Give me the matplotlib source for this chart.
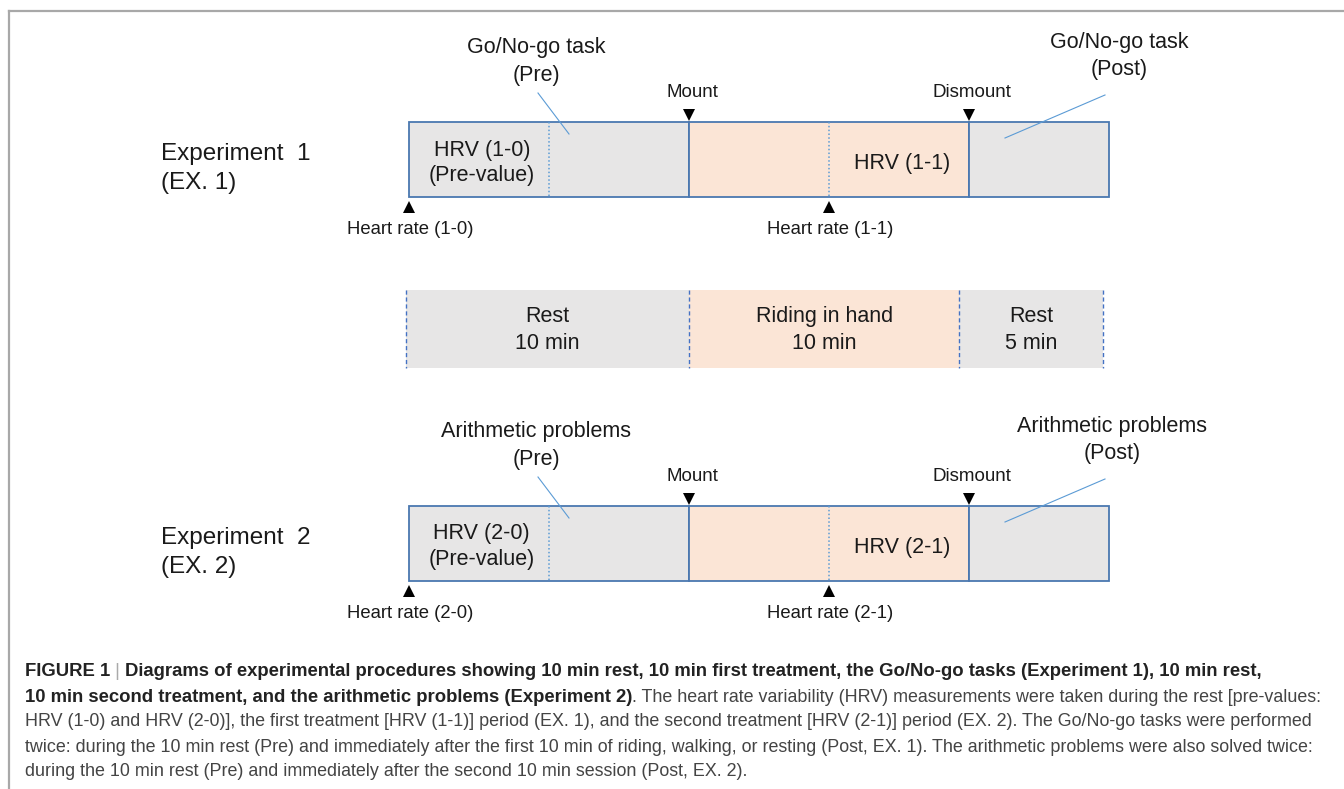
import matplotlib.pyplot as plt
from matplotlib.patches import Rectangle

plt.rcParams['font.family'] = ['Liberation Sans', 'DejaVu Sans']

# ---- data: timeline of each experiment (minutes) ----
seg_start = [0, 10, 20]
seg_end = [10, 20, 25]
seg_kind = ['rest', 'ride', 'rest']
hrv_split = [5, 15]            # dotted lines inside the bar
hr_times = [0, 15]             # heart rate markers
mount_t, dismount_t = 10, 20

exp_names = ['Experiment  1', 'Experiment  2']
exp_short = ['(EX. 1)', '(EX. 2)']
task_names = ['Go/No-go task', 'Arithmetic problems']
hrv_pre = ['HRV (1-0)', 'HRV (2-0)']
hrv_ride = ['HRV (1-1)', 'HRV (2-1)']
hr_labels = [['Heart rate (1-0)', 'Heart rate (1-1)'],
             ['Heart rate (2-0)', 'Heart rate (2-1)']]

# middle band: phases
band_edges = [-0.1, 10, 19.65, 24.8]
band_names = ['Rest', 'Riding in hand', 'Rest']
band_durations = ['10 min', '10 min', '5 min']

caption_bold_1 = ('Diagrams of experimental procedures showing 10 min rest, 10 min first '
                  'treatment, the Go/No-go tasks (Experiment 1), 10 min rest,')
caption_bold_2 = '10 min second treatment, and the arithmetic problems (Experiment 2)'
caption_rest_2 = ('. The heart rate variability (HRV) measurements were taken during the '
                  'rest [pre-values:')
caption_lines = [
    'HRV (1-0) and HRV (2-0)], the first treatment [HRV (1-1)] period (EX. 1), and the second '
    'treatment [HRV (2-1)] period (EX. 2). The Go/No-go tasks were performed',
    'twice: during the 10 min rest (Pre) and immediately after the first 10 min of riding, '
    'walking, or resting (Post, EX. 1). The arithmetic problems were also solved twice:',
    'during the 10 min rest (Pre) and immediately after the second 10 min session (Post, EX. 2).',
]

# ---- style / layout ----
W, H = 1344, 789
X0, PX = 409, 28.0            # pixel of t=0 and pixels per minute
GRAY, PEACH = '#e7e6e6', '#fbe5d6'
EDGE, DASH, LEADER = '#4a78b0', '#4472c4', '#5b9bd5'
TXT = '#1a1a1a'
row_top = [122, 506]
box_h = 75


def px2t(px):
    return (px - X0) / PX


fig = plt.figure(figsize=(W / 100, H / 100), dpi=100)
ax = fig.add_axes([0, 0, 1, 1])
ax.set_xlim(px2t(0), px2t(W))
ax.set_ylim(H, 0)
ax.axis('off')

# frame lines
ax.plot([px2t(9), px2t(W)], [11, 11], color='#a8a8a8', lw=1.6)
ax.plot([px2t(9), px2t(9)], [11, H], color='#a8a8a8', lw=1.6)

for r in range(2):
    top = row_top[r]
    bot = top + box_h
    for s, e, k in zip(seg_start, seg_end, seg_kind):
        ax.add_patch(Rectangle((s, top), e - s, box_h,
                               facecolor=GRAY if k == 'rest' else PEACH,
                               edgecolor=EDGE, lw=1.3))
    ax.vlines(hrv_split, top, bot, colors=LEADER, linestyles=(0, (1, 1.5)), lw=1.1)

    # experiment name
    ax.text(px2t(161), top + 32, exp_names[r], fontsize=17.5, color=TXT, va='center')
    ax.text(px2t(161), top + 61, exp_short[r], fontsize=17.5, color=TXT, va='center')

    # texts inside the bar
    ax.text(2.6, top + 28, hrv_pre[r], fontsize=15.5, color=TXT, ha='center', va='center')
    ax.text(2.6, top + 53, '(Pre-value)', fontsize=15.5, color=TXT, ha='center', va='center')
    ax.text(17.6, top + 41, hrv_ride[r], fontsize=15.5, color=TXT, ha='center', va='center')

    # mount / dismount
    for t, lab in [(mount_t, 'Mount'), (dismount_t, 'Dismount')]:
        ax.plot(t, top - 7, marker='v', ms=8, color='black', mew=0)
        ax.text(t + 0.12, top - 30, lab, fontsize=13.5, color=TXT, ha='center', va='center')

    # heart rate markers
    for t, lab in zip(hr_times, hr_labels[r]):
        ax.plot(t, bot + 10, marker='^', ms=8, color='black', mew=0)
        ax.text(t + 0.05, bot + 32, lab, fontsize=13.3, color=TXT, ha='center', va='center')

    # task (Pre) label + leader
    ax.text(px2t(536), top - 75, task_names[r], fontsize=15.5, color=TXT, ha='center', va='center')
    ax.text(px2t(536), top - 47, '(Pre)', fontsize=15.5, color=TXT, ha='center', va='center')
    ax.plot([px2t(538), px2t(569)], [top - 29, top + 12], color=LEADER, lw=0.8)

    # task (Post) label + leader
    post_x = 1119 if r == 0 else 1112
    ax.text(px2t(post_x), top - 80, task_names[r], fontsize=15.5, color=TXT, ha='center', va='center')
    ax.text(px2t(post_x), top - 53, '(Post)', fontsize=15.5, color=TXT, ha='center', va='center')
    ax.plot([px2t(1105), px2t(1005)], [top - 27, top + 16], color=LEADER, lw=0.8)

# middle band
b_top, b_bot = 290, 368
for i, (name, dur) in enumerate(zip(band_names, band_durations)):
    s, e = band_edges[i], band_edges[i + 1]
    ax.add_patch(Rectangle((s, b_top), e - s, b_bot - b_top,
                           facecolor=PEACH if 'Riding' in name else GRAY, lw=0))
    ax.text((s + e) / 2, 316, name, fontsize=15.5, color=TXT, ha='center', va='center')
    ax.text((s + e) / 2, 343, dur, fontsize=15.5, color=TXT, ha='center', va='center')
ax.vlines(band_edges, b_top, b_bot, colors=DASH, linestyles=(0, (3, 2)), lw=1)

# caption
cx = px2t(25)
bold_fs, reg_fs = 13.3, 12.9
t1 = ax.text(cx, 672, 'FIGURE 1', fontsize=bold_fs, weight='bold', color='#222222', va='center')
t2 = ax.annotate(' | ', xy=(1, 0.5), xycoords=t1, fontsize=bold_fs, color='#aaaaaa',
                 va='center', ha='left')
ax.annotate(caption_bold_1, xy=(1, 0.5), xycoords=t2, fontsize=bold_fs, weight='bold',
            color='#222222', va='center', ha='left')
t4 = ax.text(cx, 697, caption_bold_2, fontsize=bold_fs, weight='bold', color='#222222', va='center')
ax.annotate(caption_rest_2, xy=(1, 0.5), xycoords=t4, fontsize=reg_fs, color='#444444',
            va='center', ha='left')
for i, line in enumerate(caption_lines):
    ax.text(cx, 722 + 25 * i, line, fontsize=reg_fs, color='#444444', va='center')

fig.savefig('out.png', dpi=100)
